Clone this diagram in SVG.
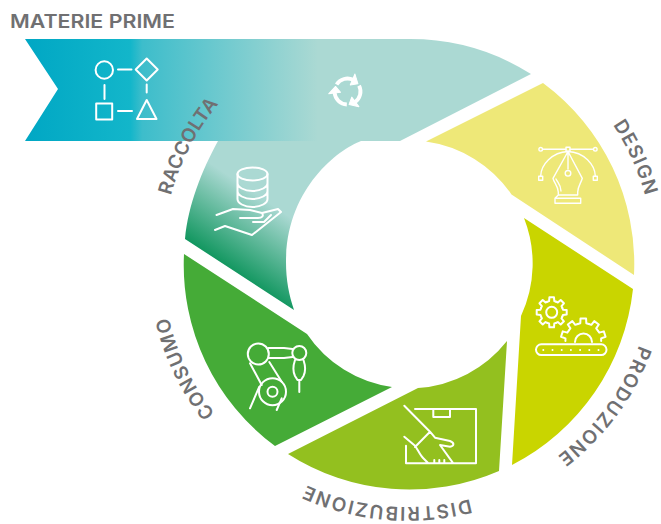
<svg xmlns="http://www.w3.org/2000/svg" xmlns:xlink="http://www.w3.org/1999/xlink" width="661" height="524" viewBox="0 0 661 524">
<style>
.lb{font-family:Inter,"Liberation Sans",sans-serif;font-weight:600;font-size:19px;fill:#707072}
.ic{fill:none;stroke:#fff;stroke-width:2;stroke-linecap:round;stroke-linejoin:round}
.thin{stroke-width:1.4}
</style>
<defs>
<linearGradient id="gr" gradientUnits="userSpaceOnUse" x1="25" y1="0" x2="318" y2="0">
<stop offset="0" stop-color="#00a7c4"/><stop offset="0.36" stop-color="#13b6ca"/><stop offset="0.4" stop-color="#3dbdcb"/><stop offset="1" stop-color="#abd9d3"/>
</linearGradient>
<linearGradient id="gg" gradientUnits="userSpaceOnUse" x1="208" y1="265" x2="256" y2="194">
<stop offset="0" stop-color="#008f52"/><stop offset="1" stop-color="#abd9d3"/>
</linearGradient>
<path id="ring" d="M408,15A246,246 0 1 1 407.990,15"/>
<path id="t1" d="M-4.4-10.6L-2.6-11.25L-2.3-15H2.3L2.6-11.25L4.4-10.6"/>
<path id="t2" d="M-5.5-17L-3-17.8L-2.8-22.5H2.8L3-17.8L5.5-17"/>
<path id="arr" d="M-12.560-3.360A13,13 0 0 1 1.800-12.870" fill="none" stroke="#fff" stroke-width="3.800"/>
<path id="arh" d="M.6-7L1.660-18.900L7.460-10.650Z" fill="#fff" stroke="#fff" stroke-linejoin="round"/>
</defs>
<g id="raccolta"><path d="M218,141H361C337,150 286,190 286,262C286,280 289,295 294,310L185,239C188,205 202,170 218,141Z" fill="url(#gg)"/>
<g class="ic"><ellipse cx="252.500" cy="174" rx="15" ry="6.500"/><path d="M237.500,174V199C237.500,203 244,207 252.500,207S267.500,203 267.500,199V174M237.500,183C237.500,187 244,191 252.500,191S267.500,187 267.500,183M237.500,191C237.500,195 244,199 252.500,199S267.500,195 267.500,191"/>
<path d="M216.500,215L233,209L250,210L262,213C264,216 262,218 258,218H240M262,213L278,209L281,212L252,235L225,226L215,230M253,222L264,222L271,215"/></g></g>
<g id="materie-prime"><path d="M25,39H410A226,226 0 0 1 531,74L400,141H25L58,89Z" fill="url(#gr)"/>
<g class="ic"><circle cx="104.300" cy="70" r="8.700"/><path d="M118,69.500H131.500M146.700,58.500L157.700,69.500L146.700,80.500L135.700,69.500ZM104.500,85V99M146.700,84.500V92.500M118,111H132M146.700,100L156.500,119H137Z"/><rect x="96.200" y="103.500" width="16" height="16"/></g>
<g transform="translate(347.500,91.500) rotate(18)"><use href="#arr"/><use href="#arh"/><g transform="rotate(120)"><use href="#arr"/><use href="#arh"/></g><g transform="rotate(240)"><use href="#arr"/><use href="#arh"/></g></g></g>
<g id="design"><path d="M543,83A225,225 0 0 1 634,275L511.500,194.500A124,124 0 0 0 426,141.500Z" fill="#eee878"/>
<g class="ic thin"><path d="M542.700,149.300H566M570,149.300H593.300M568,151.500C552,152 541,165 540.700,176M568,151.500C584,152 595,165 595.300,176M568,151.500V169M568,151.500L553,178.300C554,183 558,186 558.300,192V195H577.700V192C578,186 581,183 582.300,178.300ZM558.300,195L555,198.300H580.700V203.300H555V198.300ZM556,179C558,183 561,185 561,191"/><circle cx="540.700" cy="149.300" r="1.800"/><circle cx="595.300" cy="149.300" r="1.800"/><circle cx="568" cy="173.300" r="2.800"/><rect x="566" y="147.300" width="4" height="4"/><rect x="538.700" y="176.300" width="4" height="4"/><rect x="593.300" y="176.300" width="4" height="4"/></g></g>
<g id="produzione"><path d="M524,218A124,124 0 0 1 521,316L512,465A225,225 0 0 0 633,289Z" fill="#c9d500"/>
<g class="ic"><g transform="translate(551.700,312.300)"><use href="#t1"/><use href="#t1" transform="rotate(45)"/><use href="#t1" transform="rotate(90)"/><use href="#t1" transform="rotate(135)"/><use href="#t1" transform="rotate(180)"/><use href="#t1" transform="rotate(225)"/><use href="#t1" transform="rotate(270)"/><use href="#t1" transform="rotate(315)"/><circle r="5.500"/></g>
<g transform="translate(583.300,341)"><use href="#t2" transform="rotate(-72)"/><use href="#t2" transform="rotate(-36)"/><use href="#t2"/><use href="#t2" transform="rotate(36)"/><use href="#t2" transform="rotate(72)"/></g>
<path d="M575,342A8.500,8.500 0 0 1 592,342"/><rect x="536" y="344.300" width="70.500" height="10.700" rx="5.300"/>
<path d="M543.300,350h.01M552.500,350h.01M561.700,350h.01M570.900,350h.01M580.100,350h.01M589.300,350h.01M598.500,350h.01"/></g></g>
<g id="distribuzione"><path d="M288,454L418,388A124,124 0 0 0 507,341L499,471A225,225 0 0 1 288,454Z" fill="#93c01f"/>
<g class="ic"><path d="M415,409H476V463.300H453.300M406,445.700V463.300H428M433.300,409V417H450V409M404.300,405.700L430,431.700L415,447M404.300,436.700L415,445.700C418,450 420,455 423.300,458.300L428.300,463.300H453.300L440,445L450,446.700C454,446 455,443 450,441L435,437.700L430,431.700M434.300,460V463M439.300,460V463M444.300,460V463"/></g></g>
<g id="consumo"><path d="M184,254L307,334A123,123 0 0 0 392,387L275,446A225,225 0 0 1 184,254Z" fill="#45ab37"/>
<g class="ic"><circle cx="258.300" cy="354" r="10.500"/><circle cx="299.300" cy="353" r="7"/><circle cx="272.500" cy="391.700" r="13.500"/><circle cx="272.500" cy="391.700" r="5"/><path d="M268.500,348H284L292.500,349M268.500,358H284L292.500,357M250,363.300L261.700,385M269.300,362L281.700,381.700M259.300,386.700L250,408.300M281.700,398.300L276.700,410M295,360C293,366 293,372 295,376L297.500,380H301L303.500,376C305.500,372 305.500,366 303.500,360M299.300,380V392"/></g></g>
<text class="lb" x="10" y="28" textLength="165" lengthAdjust="spacingAndGlyphs">MATERIE PRIME</text>
<text class="lb" textLength="78"><textPath href="#ring" startOffset="242">DESIGN</textPath></text>
<text class="lb" textLength="140"><textPath href="#ring" startOffset="472">PRODUZIONE</textPath></text>
<text class="lb" textLength="167"><textPath href="#ring" startOffset="710">DISTRIBUZIONE</textPath></text>
<text class="lb" textLength="108"><textPath href="#ring" startOffset="994">CONSUMO</textPath></text>
<text class="lb" textLength="104"><textPath href="#ring" startOffset="1225">RACCOLTA</textPath></text>
</svg>
